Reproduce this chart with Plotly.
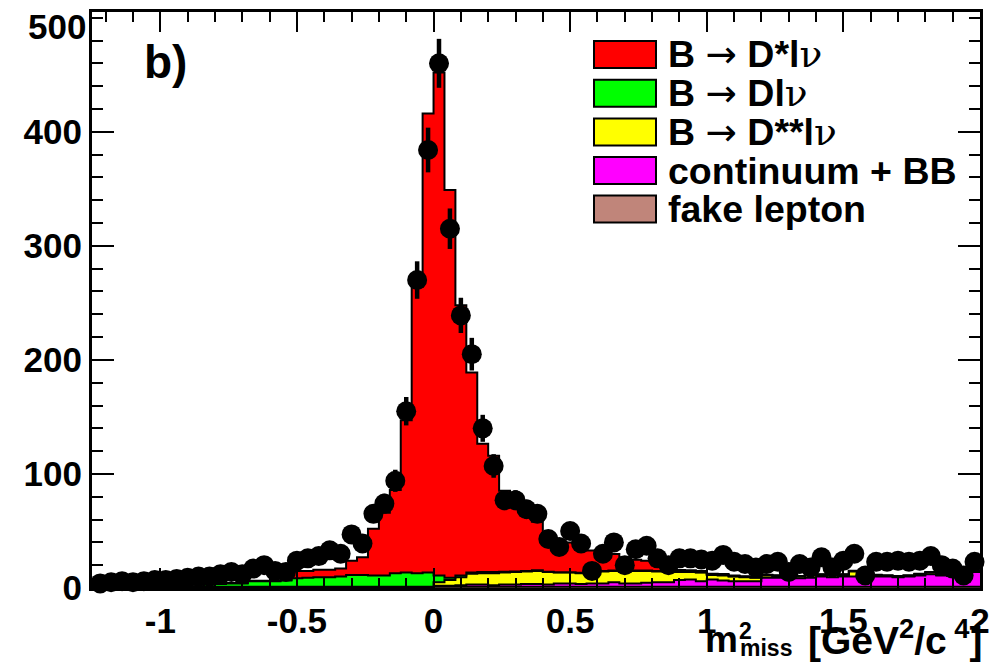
import numpy as np
import plotly.graph_objects as go

# ---------------- data (81 bins of width 0.04 from -1.24 to 2.00) ----------------
bin_lo = -1.24
bin_w = 0.04
n_bins = 81

data_counts = [4, 5, 6, 5, 6, 7, 7, 8, 9, 10,
               10, 12, 14, 12, 17, 20, 15, 14, 24, 26,
               28, 33, 30, 47, 39, 65, 74, 94, 155, 270,
               384, 460, 315, 239, 205, 140, 107, 77, 77, 69,
               65, 43, 36, 50, 39, 15, 30, 40, 20, 34,
               37, 26, 20, 26, 26, 25, 24, 29, 23, 21,
               18, 21, 23, 14, 21, 18, 27, 18, 24, 30,
               11, 23, 23, 24, 23, 24, 28, 20, 17, 11,
               23]

fake_lepton = [0.5] * 31 + [1.0] * 50

continuum_bb = [0.5] * 31 + [1, 1, 1.5, 2, 2, 1.5, 2, 2, 2.5,
                             2.5, 2, 3, 3, 2.5, 3, 3, 4, 3, 3,
                             3.5, 4, 4, 6, 6.5, 5, 6.5, 5.5, 5, 5,
                             5, 8, 8, 8.5, 7.5, 8, 9, 8.5, 9, 9,
                             8.5, 9, 9, 8.5, 9, 10, 11, 10, 9.5, 11,
                             13]

b_dss_lnu = [0] * 31 + [3, 5, 7, 9.5, 10, 10.5, 10.5, 11, 11,
                        11.5, 11, 9.5, 9.5, 9.5, 9.5, 10.5, 10, 11, 11,
                        10.5, 9.5, 9, 7, 6.5, 7.5, 4, 4.5, 4, 3.5,
                        3, 2, 1.5, 3, 1.5, 3.5, 1.5, 4, 1.5, 4.5,
                        1, 1, 0.5, 0.5, 0.5, 1, 1.5, 0.5, 0.5, 0.5,
                        0.5]

b_d_lnu = [0.3] * 10 + [2.5, 2.5, 3, 3, 5, 5, 5, 5.5, 7.5, 8,
                        8.5, 8.5, 9, 10.5, 10.5, 10, 10, 12, 12.5, 12,
                        12.5, 6, 2, 1.5, 1, 1, 1, 0.8, 0.5, 0.5,
                        0.5] + [0.3] * 40

b_ds_lnu = [0.3] * 17 + [0.5, 6.5, 6, 6.5, 6.5, 7, 12.5, 15.5, 41,
                         55, 73, 133.5, 251, 402.5, 441, 340, 237, 175.5, 112.5,
                         102, 71, 62.5, 55, 42.5, 31.5, 28, 26, 24.5, 19,
                         16, 14.5, 11.5, 9.5, 8.5, 5, 2.5, 1.5, 1.2, 1,
                         0.8, 1, 0.6, 0.5, 0.4] + [0.3] * 20

x_tick_vals = [-1, -0.5, 0, 0.5, 1, 1.5, 2]
x_tick_text = ['-1', '-0.5', '0', '0.5', '1', '1.5', '2']
y_tick_vals = [0, 100, 200, 300, 400, 500]
y_tick_text = ['0', '100', '200', '300', '400', '']   # top label "500" placed below
y_top_label = '500'

ARROW = '<span style="font-family:\'DejaVu Sans\';font-weight:normal">\u2192</span>'
NU = '<span style="font-family:\'DejaVu Serif\';font-weight:normal">\u03bd</span>'
legend_labels = ['B ' + ARROW + ' D*l' + NU,
                 'B ' + ARROW + ' Dl' + NU,
                 'B ' + ARROW + ' D**l' + NU,
                 'continuum + BB',
                 'fake lepton']

# ---------------- figure ----------------
edges = np.round(bin_lo + bin_w * np.arange(n_bins + 1), 4)
centers = edges[:-1] + bin_w / 2

stack = [  # bottom -> top
    (fake_lepton, '#c0857a'),
    (continuum_bb, '#ff00ff'),
    (b_dss_lnu, '#ffff00'),
    (b_d_lnu, '#00ff00'),
    (b_ds_lnu, '#ff0000'),
]
legend_colors = ['#ff0000', '#00ff00', '#ffff00', '#ff00ff', '#c0857a']

fig = go.Figure()
cum = np.zeros(n_bins)
for i, (vals, col) in enumerate(stack):
    cum = cum + np.array(vals, dtype=float)
    ystep = np.append(cum, cum[-1])
    fig.add_trace(go.Scatter(
        x=edges, y=ystep, mode='lines',
        line=dict(shape='hv', color='black', width=2),
        fill='tozeroy' if i == 0 else 'tonexty', fillcolor=col,
        showlegend=False, hoverinfo='skip'))

data_arr = np.array(data_counts, dtype=float)
fig.add_trace(go.Scatter(
    x=centers, y=data_arr, mode='markers',
    marker=dict(color='black', size=20),
    error_y=dict(type='data', array=np.sqrt(data_arr), color='black',
                 thickness=4.5, width=0),
    cliponaxis=False, showlegend=False))

FONT = 'Liberation Sans, Arial, Helvetica, sans-serif'
L, R, T, B = 92, 11, 12, 74
W, H = 991, 662
pw, ph = W - L - R, H - T - B


def px(xp):
    return (xp - L) / pw


def py(yp):
    return (H - B - yp) / ph


x_minor = [round(v, 2) for v in np.arange(-1.2, 2.01, 0.1)]
y_minor = list(range(0, 501, 20))

fig.update_layout(
    width=W, height=H,
    margin=dict(l=L, r=R, t=T, b=B, pad=0, autoexpand=False),
    paper_bgcolor='white', plot_bgcolor='white',
    showlegend=False,
    xaxis=dict(range=[-1.25, 2.0], showline=True, linecolor='black', linewidth=3,
               mirror='allticks', ticks='inside', ticklen=20, tickwidth=2,
               tickcolor='black', tickmode='array', tickvals=x_tick_vals,
               ticktext=x_tick_text, showgrid=False, zeroline=False, automargin=False,
               ticklabeloverflow='allow',
               tickfont=dict(family=FONT, size=35, color='black', weight='bold'),
               minor=dict(ticks='inside', ticklen=10, tickwidth=2, tickcolor='black',
                          tickmode='array', tickvals=x_minor, showgrid=False)),
    yaxis=dict(range=[0, 505], showline=True, linecolor='black', linewidth=3,
               mirror='allticks', ticks='inside', ticklen=22, tickwidth=2,
               tickcolor='black', tickmode='array', tickvals=y_tick_vals,
               ticktext=y_tick_text, showgrid=False, zeroline=False, automargin=False,
               ticklabeloverflow='allow',
               tickfont=dict(family=FONT, size=35, color='black', weight='bold'),
               minor=dict(ticks='inside', ticklen=11, tickwidth=2, tickcolor='black',
                          tickmode='array', tickvals=y_minor, showgrid=False)),
)

annotations = []
shapes = []


def note(xp, yp, text, size, xanchor='left', yanchor='middle'):
    annotations.append(dict(x=px(xp), y=py(yp), xref='paper', yref='paper', text=text,
                            showarrow=False, xanchor=xanchor, yanchor=yanchor,
                            borderpad=0, borderwidth=0,
                            font=dict(family=FONT, size=size, color='black', weight='bold')))


# top y tick label, shifted down as in the reference
note(86, 27, y_top_label, 35, xanchor='right')
# panel label
note(165, 62, 'b)', 46, xanchor='center')
# legend (drawn manually)
row_y = [54.5, 93.3, 132, 170.5, 209]
for lab, col, yc in zip(legend_labels, legend_colors, row_y):
    shapes.append(dict(type='rect', xref='paper', yref='paper',
                       x0=px(594), x1=px(656), y0=py(yc + 13.5), y1=py(yc - 13.5),
                       fillcolor=col, line=dict(color='black', width=2)))
    note(668, yc, lab, 37.5)
# x axis title
note(705, 639, 'm', 37)
note(739, 631, '2', 23)
note(740, 648, 'miss', 23)
note(983, 637, '[GeV<sup>2</sup>/c<sup> 4</sup>]', 39, xanchor='right')

fig.update_layout(annotations=annotations, shapes=shapes)
fig.write_html('out.html')
